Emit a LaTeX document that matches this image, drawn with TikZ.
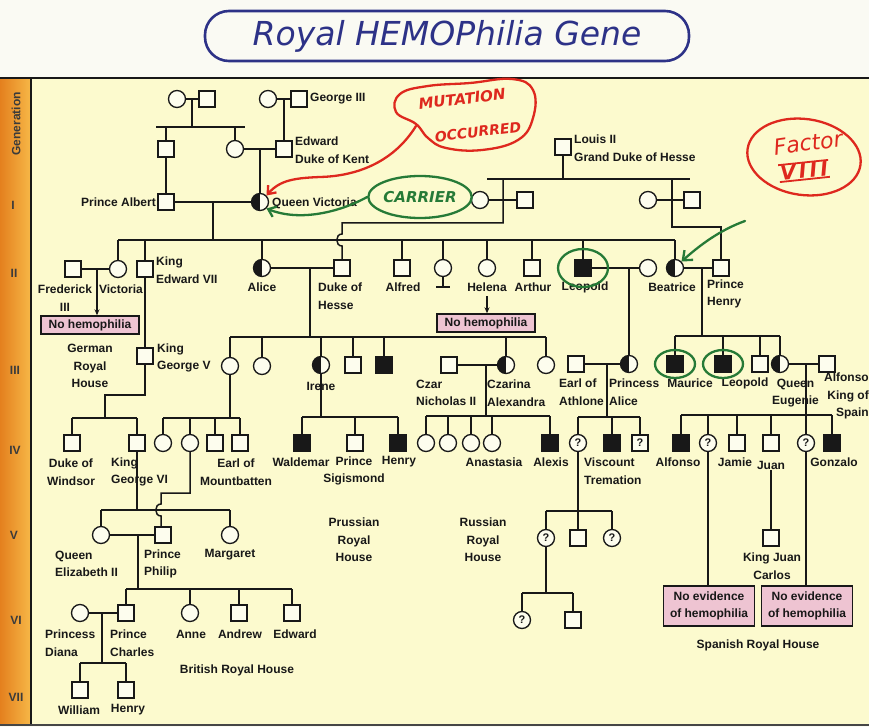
\documentclass[tikz,border=0pt]{standalone}
\usepackage{fontspec}
\setmainfont{Liberation Sans}
\newfontfamily\handfont{DejaVu Sans}
\usetikzlibrary{arrows.meta,shapes.geometric}
\definecolor{page}{RGB}{250,250,243}
\definecolor{paper}{RGB}{252,250,206}
\definecolor{ink}{RGB}{24,24,24}
\definecolor{nodefill}{RGB}{253,253,238}
\definecolor{barL}{RGB}{228,128,30}
\definecolor{barR}{RGB}{246,182,70}
\definecolor{pinkbox}{RGB}{238,196,210}
\definecolor{penred}{RGB}{222,40,30}
\definecolor{pengreen}{RGB}{38,122,55}
\definecolor{penblue}{RGB}{45,50,135}
\tikzset{
  ln/.style={draw=ink, line width=1.5pt},
  sq/.style={rectangle, draw=ink, fill=nodefill, minimum size=16pt, inner sep=0pt, line width=1.35pt},
  sqa/.style={sq, fill=ink},
  ci/.style={circle, draw=ink, fill=nodefill, minimum size=17pt, inner sep=0pt, line width=1.35pt},
  cic/.style={ci, path picture={\fill[ink] (path picture bounding box.north west) rectangle (path picture bounding box.south);}},
  qm/.style={font=\bfseries\fontsize{11}{11}\selectfont, text=ink},
  lbl/.style={font=\bfseries\fontsize{12}{17.5}\selectfont, text=ink, inner sep=0pt},
  hbox/.style={rectangle, draw=ink, fill=pinkbox, line width=1.4pt, font=\bfseries\fontsize{12}{14}\selectfont, text=ink, minimum width=98pt, minimum height=18pt, inner sep=1pt},
  ebox/.style={rectangle, draw=ink, fill=pinkbox, line width=1.4pt, font=\bfseries\fontsize{12}{17}\selectfont, text=ink, align=center, minimum width=91pt, minimum height=40pt, inner sep=1pt},
  gen/.style={font=\bfseries\fontsize{12}{12}\selectfont, text=ink!85},
  pen/.style={line width=2.3pt, line cap=round, line join=round}
}
\begin{document}
\begin{tikzpicture}[x=1pt,y=-1pt]
\useasboundingbox (0,0) rectangle (869,727);
% page, chart panel and generation strip
\fill[page] (0,0) rectangle (869,727);
\fill[paper] (31,79) rectangle (869,724);
\shade[left color=barL, right color=barR] (0,79) rectangle (30,724);
\draw[ink, line width=1.8pt] (0,78) -- (869,78);
\draw[ink, line width=1.5pt] (31,79) -- (31,724);
\draw[ink!80, line width=2pt] (0,725) -- (869,725);
\node[gen, rotate=90] (gtitle) at (16,124) {Generation};
\node[gen] (gI) at (13,205) {I};
\node[gen] (gII) at (14,273) {II};
\node[gen] (gIII) at (15,370) {III};
\node[gen] (gIV) at (15,450) {IV};
\node[gen] (gV) at (14,535) {V};
\node[gen] (gVI) at (16,620) {VI};
\node[gen] (gVII) at (16,697) {VII};

% title
\node[draw=penblue, line width=2.6pt, rounded corners=24pt, minimum width=484pt, minimum height=50pt,
      text=penblue, font=\handfont\itshape\fontsize{33}{33}\selectfont] (title) at (447,36) {Royal HEMOPhilia Gene};

% ---------- generation 0 ----------
\node[ci] (gmA) at (177,99) {};
\node[sq] (gmB) at (207,99) {};
\node[ci] (gmC) at (268,99) {};
\node[sq] (geo) at (299,99) {};
\node[lbl, anchor=west] (geoL) at (310,99) {George III};
\node[sq] (sibA) at (166,149) {};
\node[ci] (sibB) at (235,149) {};
\node[sq] (kent) at (284,149) {};
\node[lbl, anchor=west, align=left] (kentL) at (295,150) {Edward\\Duke of Kent};
\node[sq] (albert) at (166,202) {};
\node[lbl, anchor=east] (albertL) at (156,202) {Prince Albert};
\node[cic] (vic) at (260,202) {};
\node[lbl, anchor=west] (vicL) at (272,203) {Queen Victoria};

\draw[ln] (gmA) -- (gmB);
\coordinate (m0) at (192,99);
\coordinate (s0l) at (156,127);
\coordinate (s0r) at (245,127);
\draw[ln] (m0) -- (m0 |- s0l);
\draw[ln] (s0l) -- (s0r);
\draw[ln] (sibA |- s0l) -- (sibA);
\draw[ln] (sibB |- s0l) -- (sibB);
\draw[ln] (sibA) -- (albert);
\draw[ln] (gmC) -- (geo);
\draw[ln] (kent |- gmC) -- (kent);
\draw[ln] (sibB) -- (kent);
\coordinate (m1) at (260,149);
\draw[ln] (m1) -- (vic);
\draw[ln] (albert) -- (vic);

% ---------- house of Hesse ----------
\node[sq] (louis) at (563,147) {};
\node[lbl, anchor=west, align=left] (louisL) at (574,148) {Louis II\\Grand Duke of Hesse};
\coordinate (s2l) at (487,179);
\coordinate (s2r) at (690,179);
\draw[ln] (louis) -- (louis |- s2l);
\draw[ln] (s2l) -- (s2r);
\node[ci] (hcA) at (480,200) {};
\node[sq] (hsA) at (525,200) {};
\node[ci] (hcB) at (648,200) {};
\node[sq] (hsB) at (692,200) {};
\draw[ln] (hcA) -- (hsA);
\draw[ln] (hcB) -- (hsB);

% ---------- generation II ----------
\node[sq] (fred) at (73,269) {};
\node[ci] (vicR) at (118,269) {};
\node[sq] (ed7) at (145,269) {};
\node[cic] (alice) at (262,268) {};
\node[sq] (hesse) at (342,268) {};
\node[sq] (alfred) at (402,268) {};
\node[ci] (louise) at (443,268) {};
\node[ci] (helena) at (487,268) {};
\node[sq] (arthur) at (532,268) {};
\node[sqa] (leopold) at (583,268) {};
\node[ci] (helen) at (648,268) {};
\node[cic] (beatrice) at (675,268) {};
\node[sq] (henry) at (721,268) {};

\coordinate (m2) at (213,202);
\coordinate (s1l) at (118,240);
\coordinate (s1r) at (675,240);
\draw[ln] (m2) -- (m2 |- s1l);
\draw[ln] (s1l) -- (s1r);
\foreach \c in {vicR,ed7,alice,alfred,louise,helena,arthur,leopold,beatrice}
  \draw[ln] (\c |- s1l) -- (\c);

% lines from Louis II down to Hesse and Battenberg
\coordinate (tA) at (503,179);
\coordinate (bA) at (503,223);
\coordinate (kA) at (342,223);
\coordinate (hopA) at (342,234);
\coordinate (hopB) at (342,246);
\draw[ln] (tA) -- (bA) -- (kA) -- (hopA) .. controls (335,234) and (335,246) .. (hopB) -- (hesse);
\coordinate (tB) at (672,179);
\coordinate (bB) at (672,227);
\draw[ln] (tB) -- (bB) -| (henry);

\node[lbl, align=center] (fredL) at (65,298) {Frederick\\III};
\node[lbl] (vicRL) at (121,289) {Victoria};
\node[lbl, anchor=west, align=left] (ed7L) at (156,270) {King\\Edward VII};
\node[lbl] (aliceL) at (262,287) {Alice};
\node[lbl, anchor=west, align=left] (hesseL) at (318,296) {Duke of\\Hesse};
\node[lbl] (alfredL) at (403,287) {Alfred};
\node[lbl] (helenaL) at (487,287) {Helena};
\node[lbl] (arthurL) at (533,287) {Arthur};
\node[lbl] (leopoldL) at (585,287) {Leopold};
\node[lbl] (beatriceL) at (672,287) {Beatrice};
\node[lbl, anchor=west, align=left] (henryL) at (707,294) {Prince\\Henry};

\draw[ln] (fred) -- (vicR);
\coordinate (m3) at (97,269);
\node[hbox] (noA) at (90,325) {No hemophilia};
\draw[ln, -{Stealth[length=6pt,width=5pt]}] (m3) -- (m3 |- noA.north);
\coordinate (hA) at (487,296);
\node[hbox] (noB) at (486,323) {No hemophilia};
\draw[ln, -{Stealth[length=6pt,width=5pt]}] (hA) -- (hA |- noB.north);

% child of Helena who died at birth
\coordinate (lb) at (443,287);
\coordinate (lbW) at (436,287);
\coordinate (lbE) at (450,287);
\draw[ln] (louise) -- (lb);
\draw[ink, line width=2.6pt] (lbW) -- (lbE);

\node[lbl, align=center] (germanL) at (90,366) {German\\Royal\\House};

% ---------- generation III ----------
\node[sq] (gv) at (145,356) {};
\node[lbl, anchor=west, align=left] (gvL) at (157,358) {King\\George V};
\node[ci] (vh) at (230,366) {};
\node[ci] (cB) at (262,366) {};
\node[cic] (irene) at (321,365) {};
\node[sq] (ern) at (353,365) {};
\node[sqa] (fri) at (384,365) {};
\node[sq] (nicholas) at (449,365) {};
\node[cic] (alexandra) at (506,365) {};
\node[ci] (cC) at (546,365) {};
\node[sq] (athlone) at (576,364) {};
\node[cic] (palice) at (629,364) {};
\node[sqa] (maurice) at (675,364) {};
\node[sqa] (leo2) at (723,364) {};
\node[sq] (sC) at (760,364) {};
\node[cic] (eugenie) at (780,364) {};
\node[sq] (alfonsoK) at (827,364) {};

\draw[ln] (ed7) -- (gv);
\draw[ln] (alice) -- (hesse);
\coordinate (m4) at (310,268);
\coordinate (s3l) at (230,337);
\coordinate (s3r) at (546,337);
\draw[ln] (m4) -- (m4 |- s3l);
\draw[ln] (s3l) -- (s3r);
\foreach \c in {vh,cB,irene,ern,fri,alexandra,cC}
  \draw[ln] (\c |- s3l) -- (\c);

\draw[ln] (leopold) -- (helen);
\coordinate (m5) at (629,268);
\draw[ln] (m5) -- (palice);

\draw[ln] (beatrice) -- (henry);
\coordinate (m6) at (702,268);
\coordinate (s4l) at (675,336);
\coordinate (s4r) at (780,336);
\draw[ln] (m6) -- (m6 |- s4l);
\draw[ln] (s4l) -- (s4r);
\foreach \c in {maurice,leo2,sC,eugenie}
  \draw[ln] (\c |- s4l) -- (\c);

\draw[ln] (nicholas) -- (alexandra);
\draw[ln] (athlone) -- (palice);
\draw[ln] (eugenie) -- (alfonsoK);

\node[lbl] (ireneL) at (321,386) {Irene};
\node[lbl, anchor=west, align=left] (nichL) at (416,393) {Czar\\Nicholas II};
\node[lbl, anchor=west, align=left] (alexL) at (487,393) {Czarina\\Alexandra};
\node[lbl, anchor=west, align=left] (athL) at (559,392) {Earl of\\Athlone};
\node[lbl, anchor=west, align=left] (paliceL) at (609,392) {Princess\\Alice};
\node[lbl] (mauriceL) at (690,383) {Maurice};
\node[lbl] (leo2L) at (745,383) {Leopold};
\node[lbl, anchor=west, align=center] (eugL) at (772,393) {Queen\\Eugenie};
\node[lbl, anchor=east, align=right] (alfKL) at (869,396) {Alfonso\\King of\\Spain};

% ---------- generation IV ----------
\node[sq] (windsor) at (72,443) {};
\node[sq] (g6) at (137,443) {};
\node[ci] (bA1) at (163,443) {};
\node[ci] (alicB) at (190,443) {};
\node[sq] (bA3) at (215,443) {};
\node[sq] (mount) at (240,443) {};
\node[sqa] (waldemar) at (302,443) {};
\node[sq] (sigis) at (355,443) {};
\node[sqa] (henryP) at (398,443) {};
\node[ci] (dA) at (426,443) {};
\node[ci] (dB) at (448,443) {};
\node[ci] (dC) at (471,443) {};
\node[ci] (dD) at (492,443) {};
\node[sqa] (alexis) at (550,443) {};
\node[ci, qm] (qA) at (578,443) {?};
\node[sqa] (trem) at (612,443) {};
\node[sq, qm] (qB) at (640,443) {?};
\node[sqa] (alf) at (681,443) {};
\node[ci, qm] (qC) at (708,443) {?};
\node[sq] (jamie) at (737,443) {};
\node[sq] (juan) at (771,443) {};
\node[ci, qm] (qD) at (806,443) {?};
\node[sqa] (gonz) at (832,443) {};

% George V's line
\coordinate (gvA) at (145,395);
\coordinate (gvB) at (105,395);
\coordinate (s5l) at (72,418);
\coordinate (s5r) at (137,418);
\draw[ln] (gv) -- (gvA) -- (gvB) -- (gvB |- s5l);
\draw[ln] (s5l) -- (s5r);
\foreach \c in {windsor,g6} \draw[ln] (\c |- s5l) -- (\c);
% Victoria of Hesse's line
\coordinate (s6l) at (163,418);
\coordinate (s6r) at (240,418);
\draw[ln] (vh) -- (vh |- s6l);
\draw[ln] (s6l) -- (s6r);
\foreach \c in {bA1,alicB,bA3,mount} \draw[ln] (\c |- s6l) -- (\c);
% Irene's line
\coordinate (s7l) at (302,417);
\coordinate (s7r) at (398,417);
\draw[ln] (irene) -- (irene |- s7l);
\draw[ln] (s7l) -- (s7r);
\foreach \c in {waldemar,sigis,henryP} \draw[ln] (\c |- s7l) -- (\c);
% the Romanovs
\coordinate (m7) at (486,365);
\coordinate (s8l) at (426,416);
\coordinate (s8r) at (550,416);
\draw[ln] (m7) -- (m7 |- s8l);
\draw[ln] (s8l) -- (s8r);
\foreach \c in {dA,dB,dC,dD,alexis} \draw[ln] (\c |- s8l) -- (\c);
% Athlone's line
\coordinate (m8) at (607,364);
\coordinate (s9l) at (578,417);
\coordinate (s9r) at (640,417);
\draw[ln] (m8) -- (m8 |- s9l);
\draw[ln] (s9l) -- (s9r);
\foreach \c in {qA,trem,qB} \draw[ln] (\c |- s9l) -- (\c);
% Spanish line
\coordinate (m9) at (806,364);
\coordinate (s10l) at (681,415);
\coordinate (s10r) at (832,415);
\draw[ln] (m9) -- (m9 |- s10l);
\draw[ln] (s10l) -- (s10r);
\foreach \c in {alf,qC,jamie,juan,qD,gonz} \draw[ln] (\c |- s10l) -- (\c);

\node[lbl, align=center] (windsorL) at (71,472) {Duke of\\Windsor};
\node[lbl, anchor=west, align=left] (g6L) at (111,472) {King\\George VI};
\node[lbl, align=center] (mountL) at (236,472) {Earl of\\Mountbatten};
\node[lbl] (waldemarL) at (301,462) {Waldemar};
\node[lbl, align=center] (sigisL) at (354,471) {Prince\\Sigismond};
\node[lbl] (henryPL) at (399,462) {Henry};
\node[lbl] (anaL) at (494,462) {Anastasia};
\node[lbl] (alexisL) at (551,462) {Alexis};
\node[lbl, anchor=west, align=left] (tremL) at (584,471) {Viscount\\Tremation};
\node[lbl] (alfL) at (678,462) {Alfonso};
\node[lbl] (jamieL) at (735,462) {Jamie};
\node[lbl] (gonzL) at (834,462) {Gonzalo};

% ---------- generation V and below ----------
\node[ci] (eliz) at (101,535) {};
\node[sq] (philip) at (163,535) {};
\node[ci] (margaret) at (230,535) {};
\node[ci, qm] (qE) at (546,538) {?};
\node[sq] (sD) at (578,538) {};
\node[ci, qm] (qF) at (612,538) {?};
\node[sq] (juanc) at (771,538) {};

\coordinate (s13l) at (101,510);
\coordinate (s13r) at (230,510);
\draw[ln] (g6) -- (g6 |- s13l);
\draw[ln] (s13l) -- (s13r);
\foreach \c in {eliz,margaret} \draw[ln] (\c |- s13l) -- (\c);
\coordinate (aA) at (190,493);
\coordinate (aB) at (161,493);
\coordinate (hpA) at (161,504);
\coordinate (hpB) at (161,516);
\draw[ln] (alicB) -- (aA) -- (aB) -- (hpA) .. controls (154,504) and (154,516) .. (hpB) -- (hpB |- philip.north);

\coordinate (s11l) at (546,511);
\coordinate (s11r) at (612,511);
\draw[ln] (qA) -- (qA |- s11l);
\draw[ln] (s11l) -- (s11r);
\foreach \c in {qE,sD,qF} \draw[ln] (\c |- s11l) -- (\c);

\node[lbl, fill=paper, inner sep=1pt] (juanL) at (771,465) {Juan};
\node[lbl, align=center] (juancL) at (772,566) {King Juan\\Carlos};
\draw[ln] (juanL.south) -- (juanc);

\node[ebox] (noC) at (709,606) {No evidence\\of hemophilia};
\node[ebox] (noD) at (807,606) {No evidence\\of hemophilia};
\draw[ln] (qC) -- (qC |- noC.north);
\draw[ln] (qD) -- (qD |- noD.north);
\node[lbl] (spainL) at (758,645) {Spanish Royal House};

\node[lbl, anchor=west, align=left] (elizL) at (55,564) {Queen\\Elizabeth II};
\node[lbl, anchor=west, align=left] (philipL) at (144,564) {Prince\\Philip};
\node[lbl] (margaretL) at (230,555) {Margaret};
\node[lbl, align=center] (prussL) at (354,540) {Prussian\\Royal\\House};
\node[lbl, align=center] (russL) at (483,540) {Russian\\Royal\\House};

\node[ci] (diana) at (80,613) {};
\node[sq] (charles) at (126,613) {};
\node[ci] (anne) at (190,613) {};
\node[sq] (andrew) at (239,613) {};
\node[sq] (edward) at (292,613) {};
\node[ci, qm] (qG) at (522,620) {?};
\node[sq] (sE) at (573,620) {};

\draw[ln] (eliz) -- (philip);
\coordinate (m10) at (138,535);
\coordinate (s14l) at (126,589);
\coordinate (s14r) at (292,589);
\draw[ln] (m10) -- (m10 |- s14l);
\draw[ln] (s14l) -- (s14r);
\foreach \c in {charles,anne,andrew,edward} \draw[ln] (\c |- s14l) -- (\c);

\coordinate (s12l) at (522,593);
\coordinate (s12r) at (573,593);
\draw[ln] (qE) -- (qE |- s12l);
\draw[ln] (s12l) -- (s12r);
\foreach \c in {qG,sE} \draw[ln] (\c |- s12l) -- (\c);

\node[sq] (william) at (80,690) {};
\node[sq] (henryW) at (126,690) {};
\draw[ln] (diana) -- (charles);
\coordinate (m11) at (102,613);
\coordinate (s15l) at (80,663);
\coordinate (s15r) at (126,663);
\draw[ln] (m11) -- (m11 |- s15l);
\draw[ln] (s15l) -- (s15r);
\foreach \c in {william,henryW} \draw[ln] (\c |- s15l) -- (\c);

\node[lbl, anchor=west, align=left] (dianaL) at (45,643) {Princess\\Diana};
\node[lbl, anchor=west, align=left] (charlesL) at (110,643) {Prince\\Charles};
\node[lbl] (anneL) at (191,634) {Anne};
\node[lbl] (andrewL) at (240,634) {Andrew};
\node[lbl] (edwardL) at (295,634) {Edward};
\node[lbl] (britL) at (237,670) {British Royal House};
\node[lbl] (williamL) at (79,710) {William};
\node[lbl] (henryWL) at (128,710) {Henry};

% ---------- pen annotations ----------
% mutation bubble and its arrow to Victoria
\draw[penred, pen] plot[smooth cycle, tension=0.7] coordinates
  {(416,124) (396,112) (400,94) (428,86) (470,83) (512,79) (533,90) (533,118) (518,140) (482,150) (446,148) (428,138)};
\coordinate (mutTail) at (416,126);
\node[text=penred, inner sep=0pt, font=\handfont\bfseries\itshape\fontsize{15}{15}\selectfont, rotate=7] (mutA) at (462,99) {MUTATION};
\node[text=penred, inner sep=0pt, font=\handfont\bfseries\itshape\fontsize{14}{14}\selectfont, rotate=7] (mutB) at (478,132) {OCCURRED};
\draw[penred, pen, -{Straight Barb[length=7pt,width=11pt]}]
  (mutTail) .. controls (395,160) and (360,176) .. (320,177) .. controls (295,178) and (280,180) .. (vic.north east);

% carrier bubble and its arrow to Victoria
\node[ellipse, draw=pengreen, line width=2.3pt, minimum width=96pt, minimum height=42pt, inner sep=0pt,
      text=pengreen, font=\handfont\bfseries\itshape\fontsize{15}{15}\selectfont] (carrier) at (420,197) {CARRIER};
\draw[pengreen, pen, -{Straight Barb[length=7pt,width=11pt]}]
  (carrier.west) .. controls (340,212) and (300,222) .. (vic.south east);

% green rings round the affected sons
\draw[pengreen, pen] (leopold) ellipse[x radius=25, y radius=19];
\draw[pengreen, pen] (maurice) ellipse[x radius=20, y radius=14];
\draw[pengreen, pen] (leo2) ellipse[x radius=20, y radius=14];
\coordinate (arrowStart) at (745,221);
\draw[pengreen, pen, -{Straight Barb[length=8pt,width=13pt]}]
  (arrowStart) .. controls (720,230) and (700,245) .. (beatrice.north east);

% factor VIII note
\draw[penred, pen, rotate around={-8:(804,157)}] (804,157) ellipse[x radius=57, y radius=38];
\node[text=penred, font=\handfont\itshape\fontsize{22}{22}\selectfont, rotate=8] (factor) at (808,143) {Factor};
\node[text=penred, font=\handfont\bfseries\itshape\fontsize{20}{20}\selectfont, rotate=6, inner sep=1pt] (fviii) at (804,171) {V\,I\,I\,I};
\draw[penred, line width=1.8pt] (fviii.north west) -- (fviii.north east);
\draw[penred, line width=1.8pt] (fviii.south west) -- (fviii.south east);
\end{tikzpicture}
\end{document}
